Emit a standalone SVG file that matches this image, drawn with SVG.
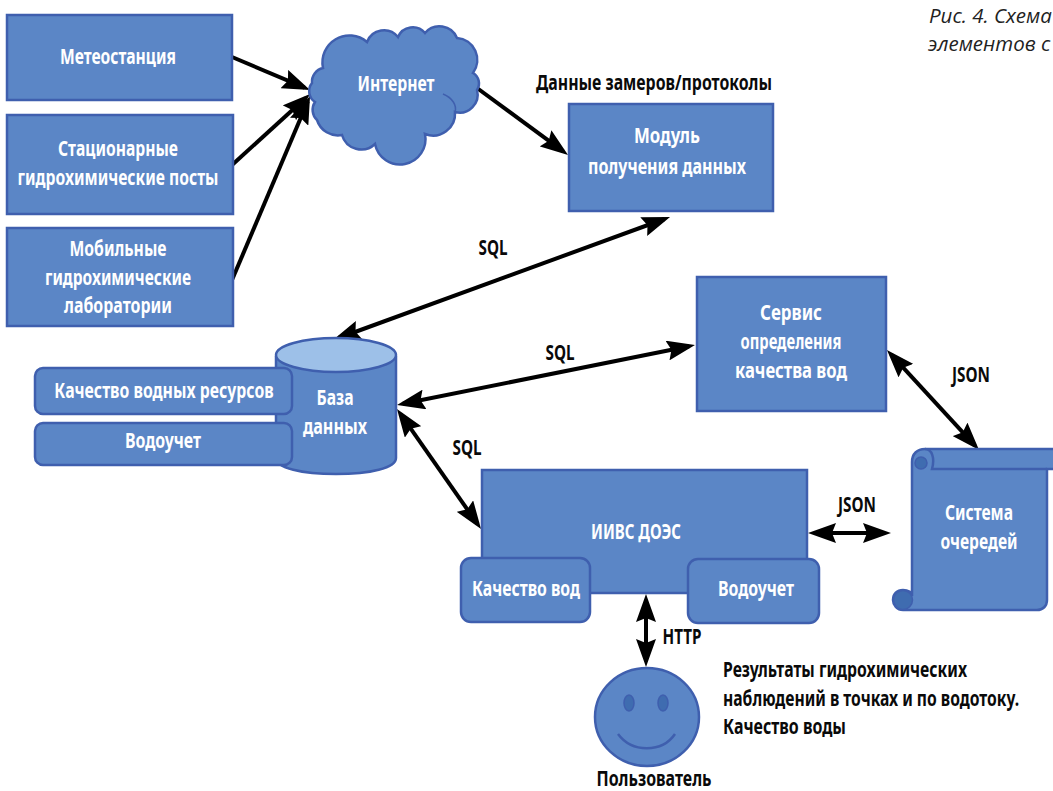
<svg xmlns="http://www.w3.org/2000/svg" width="1053" height="791" viewBox="0 0 1053 791">
<style>
text{font-family:"Noto Sans","Liberation Sans",sans-serif;font-weight:700;font-size:21px;text-anchor:middle}
.w{fill:#fff}
.k{fill:#0a0a0a}
.l{text-anchor:start}
.cap{font-family:"Open Sans","Noto Sans",sans-serif;font-style:italic;font-weight:400;font-size:20.5px;text-anchor:start;fill:#222}
.s{fill:#5b86c6;stroke:#3f5fae;stroke-width:2.5}
.d{fill:#3f6cb0;stroke:#3f5fae;stroke-width:1.5}
.c{fill:none;stroke:#000;stroke-width:4}
</style>
<defs>
<marker id="e" viewBox="0 0 28 20" refX="22" refY="10" markerWidth="7" markerHeight="5" orient="auto-start-reverse" markerUnits="strokeWidth"><path d="M0 0L28 10L0 20L4 10Z" fill="#000"/></marker>
</defs>
<g id="connectors">
<path class="c" marker-end="url(#e)" d="M232 57L304.5 87.7"/>
<path class="c" marker-end="url(#e)" d="M232 165L305.6 98"/>
<path class="c" marker-end="url(#e)" d="M232 280L307.7 101.5"/>
<path class="c" marker-end="url(#e)" d="M477 88L563.2 151.4"/>
<path class="c" marker-start="url(#e)" marker-end="url(#e)" d="M664.4 219L338.6 338"/>
<path class="c" marker-start="url(#e)" marker-end="url(#e)" d="M402.9 403.8L689.1 346.2"/>
<path class="c" marker-start="url(#e)" marker-end="url(#e)" d="M400.4 413.9L477.6 524.1"/>
<path class="c" marker-start="url(#e)" marker-end="url(#e)" d="M814 533L885 533"/>
<path class="c" marker-start="url(#e)" marker-end="url(#e)" d="M891 354.4L975 445.6"/>
<path class="c" marker-start="url(#e)" marker-end="url(#e)" d="M646 600L646 661"/>
</g>
<g id="meteo"><rect class="s" x="7" y="15" width="225" height="85"/><text class="w" x="118" y="64" textLength="116" lengthAdjust="spacingAndGlyphs">Метеостанция</text></g>
<g id="posts"><rect class="s" x="7" y="115" width="226" height="99"/><text class="w" x="118" y="156" textLength="120" lengthAdjust="spacingAndGlyphs">Стационарные</text><text class="w" x="118" y="185" textLength="201" lengthAdjust="spacingAndGlyphs">гидрохимические посты</text></g>
<g id="labs"><rect class="s" x="7" y="228" width="226" height="98"/><text class="w" x="118" y="256" textLength="97" lengthAdjust="spacingAndGlyphs">Мобильные</text><text class="w" x="118" y="285" textLength="146" lengthAdjust="spacingAndGlyphs">гидрохимические</text><text class="w" x="118" y="313" textLength="108" lengthAdjust="spacingAndGlyphs">лаборатории</text></g>
<g id="internet"><path class="s" d="M323 68A27 27 0 0 1 367 42A18 18 0 0 1 398 37A16 16 0 0 1 425 33A19 19 0 0 1 457 38A22 22 0 0 1 473 73A12 12 0 0 1 477 90A18 18 0 0 1 455 112A22 22 0 0 1 425 134A25 25 0 0 1 375 144A20 20 0 0 1 342 135A22 22 0 0 1 317 120A14 14 0 0 1 315 102A13 13 0 0 1 312 83A14 14 0 0 1 323 68Z"/><path d="M443 94C453 98 457 106 455 112" fill="none" stroke="#3f5fae" stroke-width="1.5"/><text class="w" x="396" y="91" textLength="77" lengthAdjust="spacingAndGlyphs">Интернет</text></g>
<g id="module"><rect class="s" x="569" y="104" width="204" height="107"/><text class="w" x="667" y="143" textLength="66" lengthAdjust="spacingAndGlyphs">Модуль</text><text class="w" x="667" y="174" textLength="158" lengthAdjust="spacingAndGlyphs">получения данных</text></g>
<g id="service"><rect class="s" x="697" y="277" width="189" height="134"/><text class="w" x="791" y="320" textLength="62" lengthAdjust="spacingAndGlyphs">Сервис</text><text class="w" x="791" y="349" textLength="101" lengthAdjust="spacingAndGlyphs">определения</text><text class="w" x="791" y="378" textLength="112" lengthAdjust="spacingAndGlyphs">качества вод</text></g>
<g id="db"><path class="s" d="M276 356V458C276 468 302 474 336 474C370 474 396 468 396 458V356"/><ellipse cx="336" cy="355" rx="60" ry="17" fill="#9dc0e8" stroke="#3f5fae" stroke-width="2.5"/><text class="w" x="335" y="405" textLength="37" lengthAdjust="spacingAndGlyphs">База</text><text class="w" x="335" y="434" textLength="64" lengthAdjust="spacingAndGlyphs">данных</text></g>
<g id="quality-res"><rect class="s" x="35" y="368" width="257" height="46" rx="8"/><text class="w" transform="matrix(.753 0 0 1 164 398)">Качество водных ресурсов</text></g>
<g id="metering-db"><rect class="s" x="35" y="423" width="257" height="42" rx="8"/><text class="w" x="163" y="448" textLength="76" lengthAdjust="spacingAndGlyphs">Водоучет</text></g>
<g id="iivs"><rect class="s" x="482" y="470" width="325" height="123"/><text class="w" x="636" y="539" textLength="90" lengthAdjust="spacingAndGlyphs">ИИВС ДОЭС</text></g>
<g id="quality"><rect class="s" x="461" y="558" width="129" height="64" rx="10"/><text class="w" x="526" y="596" textLength="108" lengthAdjust="spacingAndGlyphs">Качество вод</text></g>
<g id="metering"><rect class="s" x="688" y="559" width="131" height="64" rx="10"/><text class="w" x="756" y="596" textLength="76" lengthAdjust="spacingAndGlyphs">Водоучет</text></g>
<g id="queue"><path class="s" d="M912 596V462C912 454 917 449 925 449H1056V469H1047V600C1047 606 1043 610 1037 610H903C897 610 893 605 893 600C893 594 897 590 903 590C908 590 912 592 912 596Z"/><circle class="d" cx="921" cy="463" r="6"/><circle class="d" cx="903" cy="600" r="9.5"/><path d="M925 449C932 449 935 458 932 469H1047" fill="none" stroke="#3f5fae" stroke-width="2.5"/><text class="w" x="979" y="520" textLength="68" lengthAdjust="spacingAndGlyphs">Система</text><text class="w" x="979" y="549" textLength="77" lengthAdjust="spacingAndGlyphs">очередей</text></g>
<g id="user"><ellipse class="s" cx="647" cy="717" rx="52" ry="49"/><ellipse class="d" cx="629" cy="703" rx="5" ry="8"/><ellipse class="d" cx="663" cy="703" rx="5" ry="8"/><path d="M618 734C632 753 662 753 675 734" fill="none" stroke="#3f5fae" stroke-width="2.5"/><text class="k" x="654" y="786" textLength="115" lengthAdjust="spacingAndGlyphs">Пользователь</text></g>
<g id="labels">
<text class="k" x="654" y="90" textLength="236" lengthAdjust="spacingAndGlyphs">Данные замеров/протоколы</text>
<text class="k" x="493" y="255" textLength="29" lengthAdjust="spacingAndGlyphs">SQL</text>
<text class="k" x="560" y="360" textLength="29" lengthAdjust="spacingAndGlyphs">SQL</text>
<text class="k" x="467" y="455" textLength="29" lengthAdjust="spacingAndGlyphs">SQL</text>
<text class="k" x="971" y="382" textLength="38" lengthAdjust="spacingAndGlyphs">JSON</text>
<text class="k" x="857" y="512" textLength="38" lengthAdjust="spacingAndGlyphs">JSON</text>
<text class="k" x="682" y="644" textLength="39" lengthAdjust="spacingAndGlyphs">HTTP</text>
<text class="k l" x="723" y="677" textLength="244" lengthAdjust="spacingAndGlyphs">Результаты гидрохимических</text>
<text class="k l" transform="matrix(.747 0 0 1 723 706)">наблюдений в точках и по водотоку.</text>
<text class="k l" x="723" y="734" textLength="123" lengthAdjust="spacingAndGlyphs">Качество воды</text>
<text class="cap" x="929" y="23">Рис. 4. Схема</text>
<text class="cap" x="928" y="51">элементов с</text>
</g>
</svg>
